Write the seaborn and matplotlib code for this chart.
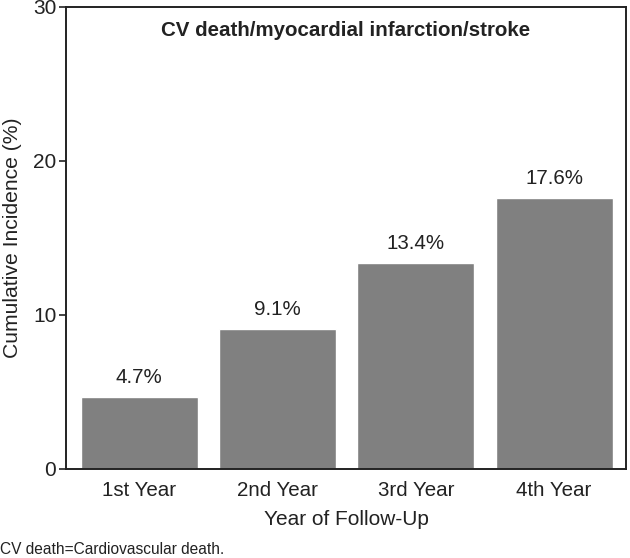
import matplotlib
matplotlib.use("Agg")
import matplotlib.pyplot as plt
import seaborn as sns
import pandas as pd

years = ["1st Year", "2nd Year", "3rd Year", "4th Year"]
incidence = [4.7, 9.1, 13.4, 17.6]
labels = ["4.7%", "9.1%", "13.4%", "17.6%"]
yticks = [0, 10, 20, 30]


def main():
    sns.set_theme(style="ticks")
    plt.rcParams["font.family"] = ["Liberation Sans", "DejaVu Sans"]

    df = pd.DataFrame({"year": years, "inc": incidence})

    fig = plt.figure(figsize=(6.3, 5.58), dpi=100)
    ax = fig.add_axes([0.1048, 0.1595, 0.8889, 0.828])

    sns.barplot(data=df, x="year", y="inc", color="#808080", saturation=1,
                width=0.846, ax=ax)

    # value labels above bars
    for i, (v, lab) in enumerate(zip(incidence, labels)):
        ax.annotate(lab, (i, v), xytext=(0, 7), textcoords="offset points",
                    ha="center", va="bottom", fontsize=14.8, color="#222222")

    ax.set_xlim(-0.53, 3.52)
    ax.set_ylim(0, 30)
    ax.set_yticks(yticks)
    ax.tick_params(axis="y", length=5, width=1.2, labelsize=15, colors="#222222", pad=2)
    ax.tick_params(axis="x", length=0, labelsize=14.8, colors="#222222", pad=9)
    for s in ax.spines.values():
        s.set_linewidth(1.4)
        s.set_color("#222222")

    ax.set_xlabel("Year of Follow-Up", fontsize=15, color="#222222", labelpad=7)
    ax.set_ylabel("Cumulative Incidence (%)", fontsize=15.2, color="#222222", labelpad=8)
    ax.text(0.5, 0.95, "CV death/myocardial infarction/stroke", transform=ax.transAxes,
            ha="center", va="center", fontsize=14.8, fontweight="bold", color="#222222")

    fig.text(0.0, 0.016, "CV death=Cardiovascular death.", fontsize=11.2,
             ha="left", va="center", color="#222222")

    fig.savefig("out.png", dpi=100)
    plt.close(fig)


if __name__ == "__main__":
    main()
